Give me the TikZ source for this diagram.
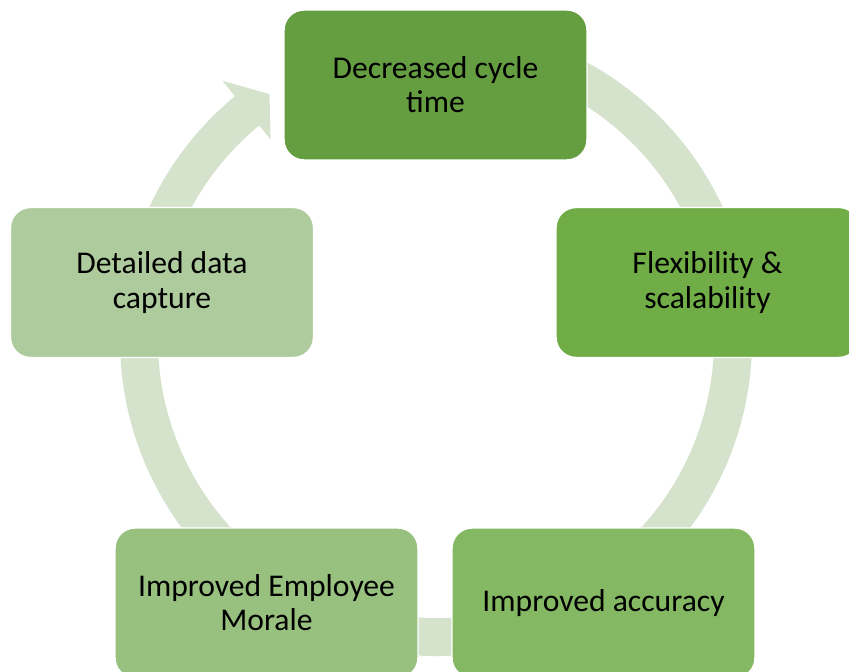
\documentclass[tikz,border=0pt]{standalone}
\usepackage{fontspec}
\setmainfont{Carlito}
\usepackage{xcolor}
\usepackage{tikz}

\definecolor{shadeA}{HTML}{659D41}
\definecolor{shadeB}{HTML}{70AD47}
\definecolor{shadeC}{HTML}{84B862}
\definecolor{shadeD}{HTML}{98C17F}
\definecolor{shadeE}{HTML}{ADCB9C}
\definecolor{ringgreen}{HTML}{D5E3CC}

\begin{document}
\begin{tikzpicture}[x=0.02cm,y=0.02cm,
        box/.style={draw=white, line width=0.8pt, rounded corners=0.4cm,
            minimum width=6.06cm, minimum height=3cm, align=center,
            font=\fontsize{18}{19.5}\selectfont}
        ]
        \useasboundingbox (0,0) rectangle (849,672);
        \clip (0,0) rectangle (849,672);
        % Ring
        \begin{scope}[shift={(436,332)}]
            \fill[ringgreen] (100:316) arc[start angle=100, end angle=-230.5, radius=316]
                -- (-230.5:336) -- (-235.9:297) -- (-230.5:260) -- (-230.5:278)
                arc[start angle=-230.5, end angle=100, radius=278] -- cycle; %arrow head
        \end{scope}
        % Boxes
        \node[box, fill=shadeA] (cycle) at (435.5,587) {Decreased cycle\\time};
        \node[box, fill=shadeB] (flex) at (707.5,389.5) {Flexibility \&\\scalability};
        \node[box, fill=shadeC] (accuracy) at (603.5,69) {Improved accuracy};
        \node[box, fill=shadeD] (morale) at (266.5,69) {Improved Employee\\Morale};
        \node[box, fill=shadeE] (capture) at (162,389.5) {Detailed data\\capture};
\end{tikzpicture}
\end{document}
